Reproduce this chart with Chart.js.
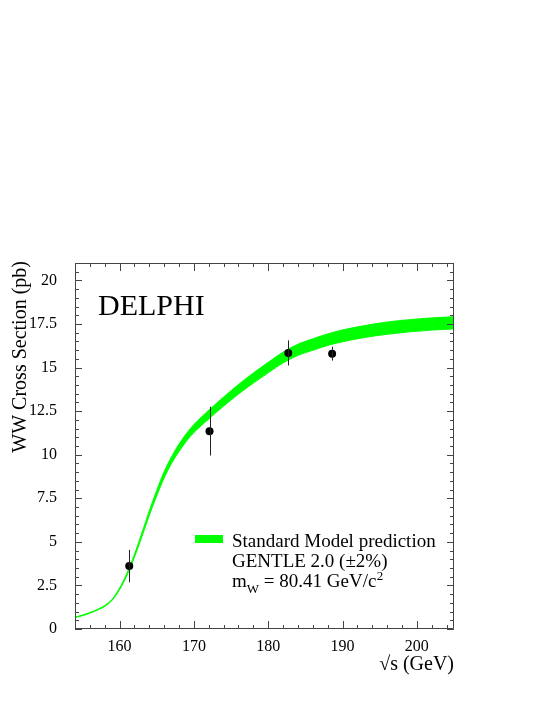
<!DOCTYPE html>
<html>
<head>
<meta charset="utf-8">
<script src="https://cdn.jsdelivr.net/npm/chart.js@4.4.0/dist/chart.umd.min.js"></script>
<style>
  html, body { margin: 0; padding: 0; background: #fff; }
  canvas { display: block; }
</style>
</head>
<body>
<canvas id="xsec" width="545" height="705"></canvas>
<script>
// GENTLE 2.0 band (+-2%)
const energy = [154, 155, 156, 157, 158, 159, 160, 161, 162, 163, 164, 165, 166, 167, 168, 169, 170,
  172, 174, 176, 178, 180, 182, 184, 186, 188, 190, 193, 196, 199, 202, 205];
const sigmaLow = [0.66, 0.76, 0.91, 1.08, 1.29, 1.65, 2.25, 3.09, 4.12, 5.29, 6.52, 7.64, 8.67, 9.51, 10.19, 10.78, 11.27,
  12.05, 12.79, 13.48, 14.11, 14.70, 15.27, 15.70, 15.99, 16.27, 16.48, 16.73, 16.91, 17.05, 17.15, 17.22];
const sigmaHigh = [0.68, 0.80, 0.95, 1.12, 1.35, 1.71, 2.35, 3.21, 4.28, 5.51, 6.78, 7.96, 9.03, 9.89, 10.61, 11.22, 11.73,
  12.55, 13.31, 14.03, 14.69, 15.30, 15.89, 16.34, 16.65, 16.93, 17.16, 17.41, 17.61, 17.75, 17.85, 17.92];

// DELPHI measurements
const dataE = [161.3, 172.1, 182.7, 188.6];
const dataXsec = [3.61, 11.35, 15.84, 15.80];
const dataErr = [0.93, 1.40, 0.72, 0.40];

const xTickValues = [160, 170, 180, 190, 200];
const yTickValues = [0, 2.5, 5, 7.5, 10, 12.5, 15, 17.5, 20];

const GREEN = '#00ff00';
const SERIF = '"Liberation Serif", "DejaVu Serif", serif';
Chart.defaults.font.family = SERIF;
Chart.defaults.color = '#000';

const frameTicks = {
  id: 'frameTicks',
  afterDraw(chart) {
    const { ctx, chartArea: a, scales: { x, y } } = chart;
    ctx.save();
    ctx.strokeStyle = '#444';
    ctx.lineWidth = 1;
    ctx.beginPath();
    ctx.rect(Math.round(a.left) + 0.5, Math.round(a.top) + 0.5,
      Math.round(a.right - a.left) - 1, Math.round(a.bottom - a.top) - 1);
    ctx.stroke();

    ctx.beginPath();
    for (let v = 154; v <= 205; v += 2) {
      const px = Math.round(x.getPixelForValue(v)) + 0.5;
      const len = v % 10 === 0 ? 8 : 4;
      ctx.moveTo(px, a.bottom); ctx.lineTo(px, a.bottom - len);
      ctx.moveTo(px, a.top); ctx.lineTo(px, a.top + len);
    }
    for (let i = 0; i <= 42; i++) {
      const v = i * 0.5;
      const py = Math.round(y.getPixelForValue(v)) + 0.5;
      const len = i % 5 === 0 ? 7 : 4;
      ctx.moveTo(a.left, py); ctx.lineTo(a.left + len, py);
      ctx.moveTo(a.right, py); ctx.lineTo(a.right - len, py);
    }
    ctx.stroke();

    // axis titles
    ctx.fillStyle = '#000';
    ctx.font = '20px ' + SERIF;
    ctx.textAlign = 'right';
    ctx.textBaseline = 'alphabetic';
    ctx.fillText('\u221As (GeV)', a.right, 670);
    ctx.save();
    ctx.translate(25.5, a.top - 2);
    ctx.rotate(-Math.PI / 2);
    ctx.fillText('WW Cross Section (pb)', 0, 0);
    ctx.restore();

    // DELPHI label
    ctx.textAlign = 'left';
    ctx.font = '30px ' + SERIF;
    ctx.fillText('DELPHI', 98, 315);

    // legend
    ctx.fillStyle = GREEN;
    ctx.fillRect(195, 535, 28, 8);
    ctx.fillStyle = '#000';
    ctx.font = '19px ' + SERIF;
    ctx.fillText('Standard Model prediction', 232, 546.5);
    ctx.fillText('GENTLE 2.0 (\u00B12%)', 232, 566.5);
    let cx = 232;
    ctx.fillText('m', cx, 586.5);
    cx += ctx.measureText('m').width;
    ctx.font = '13px ' + SERIF;
    ctx.fillText('W', cx, 593);
    cx += ctx.measureText('W').width;
    ctx.font = '19px ' + SERIF;
    const rest = ' = 80.41 GeV/c';
    ctx.fillText(rest, cx, 586.5);
    cx += ctx.measureText(rest).width;
    ctx.font = '13px ' + SERIF;
    ctx.fillText('2', cx + 0.5, 580);
    ctx.restore();
  },
  afterDatasetsDraw(chart) {
    const { ctx, scales: { x, y } } = chart;
    ctx.save();
    ctx.strokeStyle = '#222';
    ctx.lineWidth = 1;
    ctx.beginPath();
    dataE.forEach((e, i) => {
      const px = Math.round(x.getPixelForValue(e)) + 0.5;
      ctx.moveTo(px, y.getPixelForValue(dataXsec[i] - dataErr[i]));
      ctx.lineTo(px, y.getPixelForValue(dataXsec[i] + dataErr[i]));
    });
    ctx.stroke();
    ctx.restore();
  }
};

const bandStyle = {
  type: 'line',
  borderColor: GREEN,
  backgroundColor: GREEN,
  borderWidth: 1,
  pointRadius: 0,
  cubicInterpolationMode: 'monotone'
};

new Chart(document.getElementById('xsec'), {
  data: {
    datasets: [
      {
        type: 'scatter',
        label: 'DELPHI',
        data: dataE.map((e, i) => ({ x: e, y: dataXsec[i] })),
        pointRadius: 4,
        pointBackgroundColor: '#000',
        pointBorderWidth: 0,
        order: 0
      },
      {
        ...bandStyle,
        label: 'SM upper',
        data: energy.map((e, i) => ({ x: e, y: sigmaHigh[i] })),
        fill: '+1',
        order: 1
      },
      {
        ...bandStyle,
        label: 'SM lower',
        data: energy.map((e, i) => ({ x: e, y: sigmaLow[i] })),
        fill: false,
        order: 2
      }
    ]
  },
  options: {
    responsive: false,
    animation: false,
    layout: { padding: { top: 263, right: 91, left: 0, bottom: 0 } },
    plugins: { legend: { display: false }, tooltip: { enabled: false } },
    scales: {
      x: {
        type: 'linear',
        min: 154,
        max: 205,
        afterBuildTicks: s => { s.ticks = xTickValues.map(v => ({ value: v })); },
        afterFit: s => { s.height = 76; },
        grid: { display: false, drawTicks: false },
        border: { display: false },
        ticks: { font: { size: 16 }, color: '#000', padding: 8, maxRotation: 0, autoSkip: false }
      },
      y: {
        type: 'linear',
        min: 0,
        max: 21,
        afterBuildTicks: s => { s.ticks = yTickValues.map(v => ({ value: v })); },
        afterFit: s => { s.width = 75; },
        grid: { display: false, drawTicks: false },
        border: { display: false },
        ticks: { font: { size: 16 }, color: '#000', padding: 18, autoSkip: false }
      }
    }
  },
  plugins: [frameTicks]
});
</script>
</body>
</html>
